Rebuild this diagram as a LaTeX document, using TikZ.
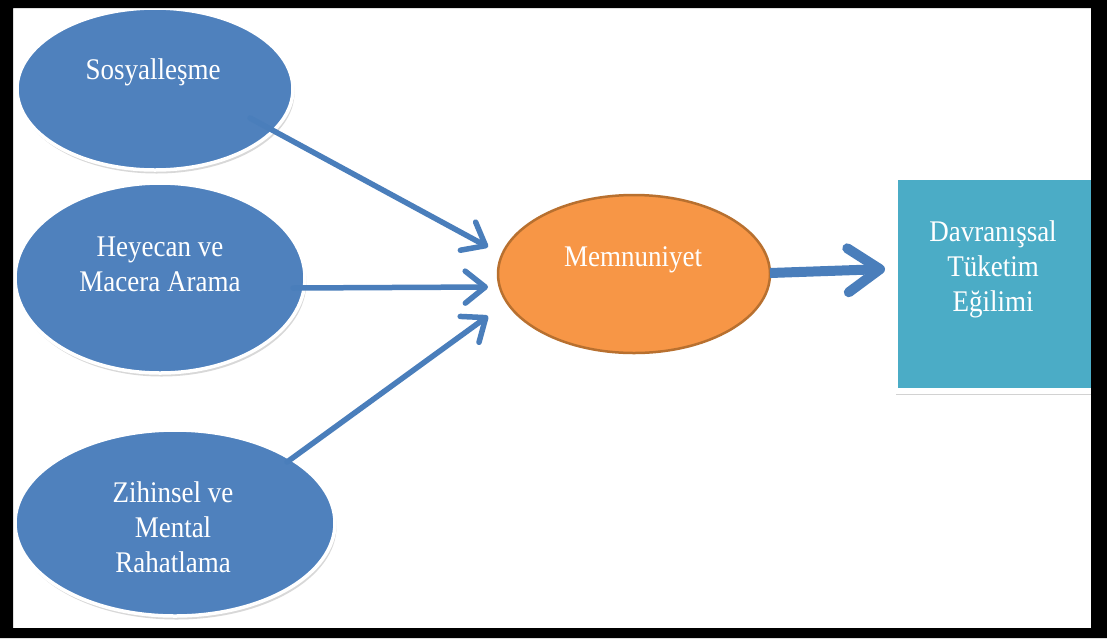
\documentclass[tikz,border=0pt]{standalone}
\usepackage{fontspec}
\setmainfont{Liberation Serif}
\usetikzlibrary{arrows.meta,shapes.geometric,shadows,calc}
\definecolor{ovalblue}{HTML}{4F81BD}
\definecolor{arrowblue}{HTML}{4A7EBB}
\definecolor{satorange}{HTML}{F79646}
\definecolor{satedge}{HTML}{B8702F}
\definecolor{boxteal}{HTML}{4BACC6}
\tikzset{
  oval/.style={ellipse, fill=ovalblue, draw=white, line width=3.5pt, inner sep=0pt,
    drop shadow={opacity=0.3, shadow xshift=1.5pt, shadow yshift=-3.5pt}},
  lbl/.style={text=white, font=\fontsize{27}{31.5}\selectfont, align=center, yscale=1.11, inner sep=0pt},
  flow/.style={draw=arrowblue, line width=5.5pt, line cap=round,
    -{Straight Barb[length=20pt, width=32pt, line cap=round, line join=round]}},
  bigflow/.style={draw=arrowblue, line width=10pt,
    -{Straight Barb[length=32pt, width=44pt, line cap=round, line join=round]}}
}
\begin{document}
\begin{tikzpicture}[x=1pt, y=-1pt]
  \useasboundingbox (0,0) rectangle (1107,638);
  \fill[white] (0,0) rectangle (1107,638);

  % outcome box
  \node (d) [rectangle, fill=boxteal, draw=white, line width=6pt, minimum width=200pt,
    minimum height=214pt, inner sep=0pt,
    drop shadow={opacity=0.35, shadow xshift=1pt, shadow yshift=-4pt}] at (995,283.5) {};
  \node (dt) [lbl] at (993,269) {Davranışsal\\Tüketim\\Eğilimi};

  % three motive ovals
  \node (e1) [oval, minimum width=276pt, minimum height=162pt] at (155,89) {};
  \node (e2) [oval, minimum width=290pt, minimum height=190pt] at (160,278) {};
  \node (e3) [oval, minimum width=320pt, minimum height=186pt] at (175,523) {};
  \node (t1) [lbl] at (153,72) {Sosyalleşme};
  \node (t2) [lbl] at (160,264) {Heyecan ve\\Macera Arama};
  \node (t3) [lbl] at (173,527) {Zihinsel ve\\Mental\\Rahatlama};

  % satisfaction oval
  \node (m) [ellipse, fill=satorange, draw=satedge, line width=2.5pt, inner sep=0pt,
    minimum width=272pt, minimum height=158pt] at (634,274) {};
  \node (mt) [lbl] at (633,260) {Memnuniyet};

  % connectors
  \draw[flow] ($(e1.center)+(95,29)$) -- ($(m.center)+(-146,-27)$);
  \draw[flow] ($(e2.center)+(133,10)$) -- ($(m.center)+(-146,13)$);
  \draw[flow] ($(e3.center)+(112,-61)$) -- ($(m.center)+(-146,42)$);
  \draw[bigflow] ($(m.center)+(136,-1)$) -- ($(d.center)+(-110,-14.5)$);

  % frame
  \fill[black, even odd rule] (0,0) rectangle (1107,638) (13,8) rectangle (1091,628);
\end{tikzpicture}
\end{document}
